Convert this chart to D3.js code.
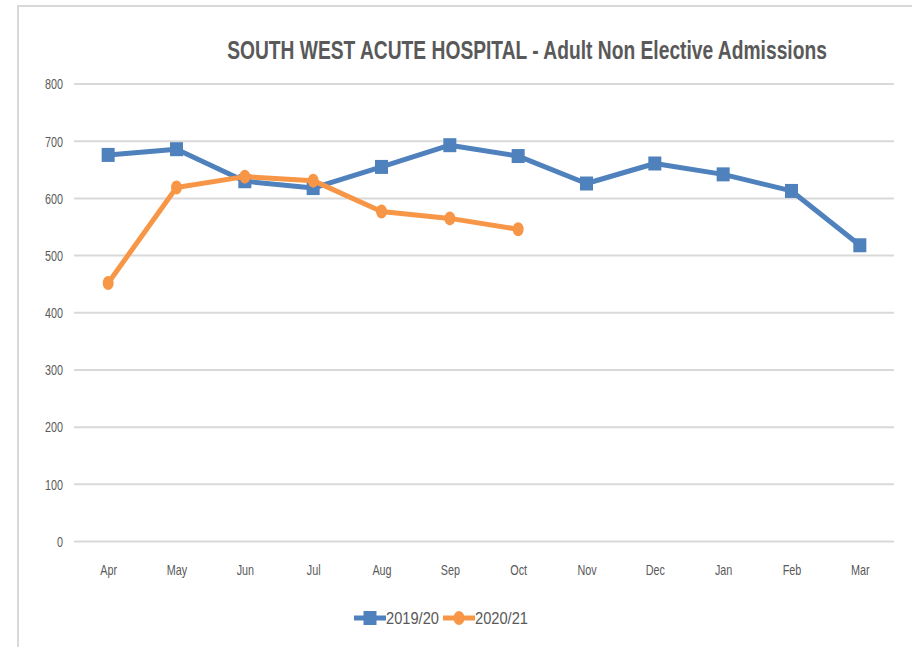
<!DOCTYPE html>
<html>
<head>
<meta charset="utf-8">
<script src="https://cdn.jsdelivr.net/npm/d3@7"></script>
<style>
body { margin: 0; background: #fff; }
svg { display: block; font-family: "Liberation Sans", Arial, sans-serif; }
.grid line { stroke: #d9d9d9; stroke-width: 2; }
.tick text { fill: #595959; }
</style>
</head>
<body>
<svg width="912" height="647"></svg>
<script>
var months = ["Apr","May","Jun","Jul","Aug","Sep","Oct","Nov","Dec","Jan","Feb","Mar"];
var y1920 = [676, 686, 630, 618, 655, 693, 674, 626, 661, 642, 613, 518];
var y2021 = [452, 619, 638, 631, 577, 565, 546];
var yTicks = [0, 100, 200, 300, 400, 500, 600, 700, 800];
var seriesNames = ["2019/20", "2020/21"];
var colors = ["#4f81bd", "#f79646"];

var svg = d3.select("svg");

// frame lines (top and left edge of the screenshot)
svg.append("line").attr("x1", 17).attr("x2", 912).attr("y1", 6).attr("y2", 6)
    .attr("stroke", "#d9d9d9").attr("stroke-width", 2);
svg.append("line").attr("x1", 18).attr("x2", 18).attr("y1", 5).attr("y2", 647)
    .attr("stroke", "#d9d9d9").attr("stroke-width", 2);

var x = d3.scalePoint().domain(months).range([74, 894]).padding(0.5);
var y = d3.scaleLinear().domain([0, 800]).range([541.5, 84]);

// squeeze text horizontally (narrow look of the original)
function squeeze(sel, k) {
    sel.each(function() {
        var w = this.getComputedTextLength();
        d3.select(this).attr("textLength", w * k).attr("lengthAdjust", "spacingAndGlyphs");
    });
}

// title, squeezed with a scale so its box stays real
var titleG = svg.append("g");
var title = titleG.append("text")
    .attr("x", 0).attr("y", 59)
    .attr("text-anchor", "middle")
    .attr("font-size", 26).attr("font-weight", "bold")
    .attr("fill", "#595959")
    .text("SOUTH WEST ACUTE HOSPITAL - Adult Non Elective Admissions");
var tk = 600 / title.node().getComputedTextLength();
titleG.attr("transform", "translate(527,0) scale(" + tk + ",1)");

// gridlines
svg.append("g").attr("class", "grid")
    .selectAll("line").data(yTicks).enter().append("line")
    .attr("x1", 74).attr("x2", 894)
    .attr("y1", function(d){ return y(d); }).attr("y2", function(d){ return y(d); });

// y axis labels
var yAxis = svg.append("g")
    .attr("transform", "translate(69,0)")
    .call(d3.axisLeft(y).tickValues(yTicks).tickSize(0).tickPadding(6));
yAxis.select(".domain").remove();
yAxis.selectAll("text").attr("font-size", 15).attr("font-family", "Liberation Sans, sans-serif")
    .call(squeeze, 0.72);

// x axis labels
var xAxis = svg.append("g")
    .attr("transform", "translate(0,558)")
    .call(d3.axisBottom(x).tickSize(0).tickPadding(6));
xAxis.select(".domain").remove();
xAxis.selectAll("text").attr("font-size", 15).attr("font-family", "Liberation Sans, sans-serif")
    .call(squeeze, 0.72);

var line = d3.line().x(function(d, i){ return x(months[i]); }).y(function(d){ return y(d); });

// 2019/20
svg.append("path").datum(y1920)
    .attr("fill", "none").attr("stroke", colors[0]).attr("stroke-width", 5)
    .attr("stroke-linejoin", "round").attr("d", line);
svg.selectAll(".sq").data(y1920).enter().append("rect")
    .attr("class", "sq")
    .attr("x", function(d, i){ return x(months[i]) - 6.5; })
    .attr("y", function(d){ return y(d) - 7; })
    .attr("width", 13).attr("height", 14)
    .attr("fill", colors[0]);

// 2020/21
svg.append("path").datum(y2021)
    .attr("fill", "none").attr("stroke", colors[1]).attr("stroke-width", 5)
    .attr("stroke-linejoin", "round").attr("d", line);
svg.selectAll(".dot").data(y2021).enter().append("ellipse")
    .attr("class", "dot")
    .attr("cx", function(d, i){ return x(months[i]); })
    .attr("cy", function(d){ return y(d); })
    .attr("rx", 5.5).attr("ry", 7)
    .attr("fill", colors[1]);

// legend
var legendX = [354, 443];
var legend = svg.append("g").selectAll("g").data(seriesNames).enter().append("g")
    .attr("transform", function(d, i){ return "translate(" + legendX[i] + ",618)"; });
legend.append("line").attr("x1", 0).attr("x2", 32).attr("y1", 0).attr("y2", 0)
    .attr("stroke", function(d, i){ return colors[i]; }).attr("stroke-width", 5);
legend.filter(function(d, i){ return i === 0; }).append("rect")
    .attr("x", 9.5).attr("y", -7).attr("width", 13).attr("height", 14).attr("fill", colors[0]);
legend.filter(function(d, i){ return i === 1; }).append("ellipse")
    .attr("cx", 16).attr("cy", 0).attr("rx", 5.5).attr("ry", 7).attr("fill", colors[1]);
legend.append("text")
    .attr("x", 32).attr("y", 6)
    .attr("font-size", 17).attr("fill", "#595959")
    .attr("textLength", 53).attr("lengthAdjust", "spacingAndGlyphs")
    .text(function(d){ return d; });
</script>
</body>
</html>
